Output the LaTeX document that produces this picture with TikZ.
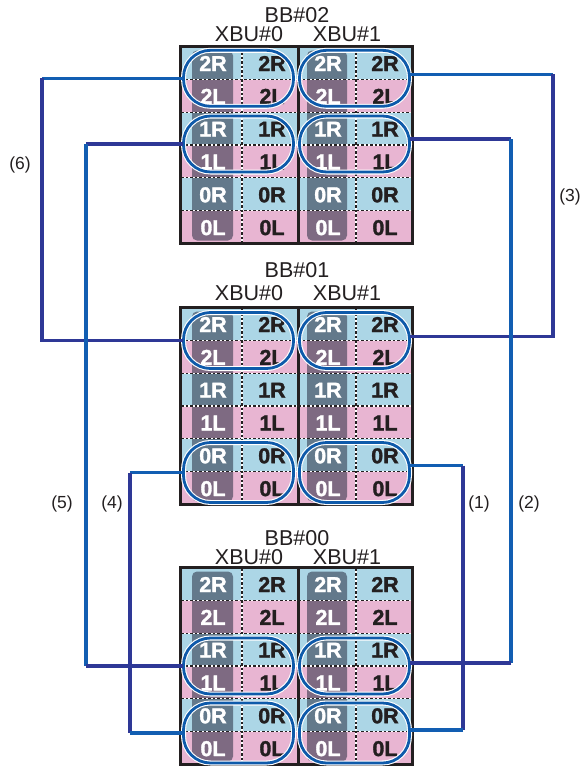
\documentclass[tikz,border=0pt]{standalone}
\usepackage{fontspec}
\setmainfont{Liberation Sans}
\newfontfamily\cellfont[UprightFont={* Bold}, UprightFeatures={FakeBold=1.5}]{Liberation Sans}
\usetikzlibrary{calc}
\definecolor{cellblue}{RGB}{172,214,230}
\definecolor{cellpink}{RGB}{232,181,210}
\definecolor{stripc}{RGB}{40,45,65}
\definecolor{boxc}{RGB}{35,31,32}
\definecolor{conA}{RGB}{18,94,178}
\definecolor{conB}{RGB}{46,56,150}
\definecolor{ellc}{RGB}{14,90,170}
\tikzset{
 cellw/.style={font=\cellfont\fontsize{21.5}{21.5}\selectfont, text=white, inner sep=0pt},
 cellk/.style={font=\cellfont\fontsize{21.5}{21.5}\selectfont, text=boxc, inner sep=0pt},
 ttl/.style={font=\fontsize{21.5}{21.5}\selectfont, text=boxc, inner sep=0pt},
 grp/.style={draw=white, double=ellc, double distance=2.8pt, line width=1.1pt, rounded corners=27pt, minimum width=110pt, minimum height=56pt, inner sep=0pt},
 conlineA/.style={draw=conA, line width=3.4pt},
 conlineB/.style={draw=conB, line width=3.4pt},
 lbl/.style={font=\fontsize{17.5}{17.5}\selectfont, text=boxc, inner sep=0pt},
 sepw/.style={draw=white, line width=1.3pt},
 sepk/.style={draw=boxc, line width=1.3pt, dash pattern=on 2.5pt off 2pt},
 boxline/.style={draw=boxc, line width=3pt},
 strip/.style={fill=stripc, fill opacity=0.55, rounded corners=5pt},
}
% #1 name, #2 top y of box, #3 BB title, #4 title y, #5 xbu y
\newcommand\bbblock[5]{%
 \begin{scope}[shift={(0,#2)}]
  \foreach \k in {0,2,4} {\fill[cellblue] (180,{32.833*\k}) rectangle (412,{32.833*(\k+1)});}
  \foreach \k in {1,3,5} {\fill[cellpink] (180,{32.833*\k}) rectangle (412,{32.833*(\k+1)});}
  \path[strip] (192,4) rectangle (233,194);
  \path[strip] (307,4) rectangle (347,194);
  \foreach \k in {1,...,5} {
    \draw[sepw] (181,{32.833*\k}) -- (411,{32.833*\k});
    \draw[sepk] (181,{32.833*\k}) -- (411,{32.833*\k});
  }
  \foreach \xx in {242,356} {
    \draw[sepw] (\xx,1) -- (\xx,196);
    \draw[sepk] (\xx,1) -- (\xx,196);
  }
  \draw[boxline] (180,0) rectangle (412,197);
  \draw[boxline] (298,0) -- (298,197);
  \foreach \k/\t in {0/2R,1/2L,2/1R,3/1L,4/0R,5/0L} {
    \node[cellw] (#1-a\k) at (213,{32.833*\k+17}) {\t};
    \node[cellk] (#1-b\k) at (272,{32.833*\k+17}) {\t};
    \node[cellw] (#1-c\k) at (328,{32.833*\k+17}) {\t};
    \node[cellk] (#1-d\k) at (385,{32.833*\k+17}) {\t};
  }
 \end{scope}
 \node[ttl] (#1-t) at (297,#4) {#3};
 \node[ttl] (#1-x0) at (249,#5) {XBU\#0};
 \node[ttl] (#1-x1) at (347,#5) {XBU\#1};
}
\begin{document}
\begin{tikzpicture}[x=1pt,y=-1pt]
\useasboundingbox (0,0) rectangle (584,766);
\fill[white] (0,0) rectangle (584,766);
\bbblock{bbb}{46.5}{BB\#02}{15}{34}
\bbblock{bba}{307.5}{BB\#01}{270}{293}
\bbblock{bbz}{567.5}{BB\#00}{538}{557}

% groups
\node[grp] (e2x0g2) at (238.5,78.3) {};
\node[grp] (e2x1g2) at (354.5,78.3) {};
\node[grp] (e2x0g1) at (238.5,144) {};
\node[grp] (e2x1g1) at (354.5,144) {};
\node[grp] (e1x0g2) at (238.5,340.5) {};
\node[grp] (e1x1g2) at (354.5,340.5) {};
\node[grp, minimum height=60pt] (e1x0g0) at (238.5,472.5) {};
\node[grp, minimum height=60pt] (e1x1g0) at (354.5,472.5) {};
\node[grp] (e0x0g1) at (238.5,666) {};
\node[grp] (e0x1g1) at (354.5,666) {};
\node[grp, minimum height=60pt] (e0x0g0) at (238.5,733) {};
\node[grp, minimum height=60pt] (e0x1g0) at (354.5,733) {};

% connector x positions
\coordinate (x6) at (42,0);
\coordinate (x5) at (86,0);
\coordinate (x4) at (130,0);
\coordinate (x1) at (463,0);
\coordinate (x2) at (511,0);
\coordinate (x3) at (553,0);
\coordinate (r3a) at ([yshift=4pt]e2x1g2.east);
\coordinate (r3b) at ([yshift=4pt]e1x1g2.east);
\coordinate (r2a) at ([yshift=5pt]e2x1g1.east);
\coordinate (r2b) at ([yshift=3pt]e0x1g1.east);
\coordinate (r1a) at ([yshift=7pt]e1x1g0.east);
\coordinate (r1b) at ([yshift=3pt]e0x1g0.east);

% (6)
\draw[conlineA] (e2x0g2.west) -- (e2x0g2.west -| x6);
\draw[conlineB] (e2x0g2.west -| x6) -- (e1x0g2.west -| x6) -- (e1x0g2.west);
% (5)
\draw[conlineB] (e2x0g1.west) -- (e2x0g1.west -| x5);
\draw[conlineA] (e2x0g1.west -| x5) -- (e0x0g1.west -| x5);
\draw[conlineB] (e0x0g1.west -| x5) -- (e0x0g1.west);
% (4)
\draw[conlineA] (e1x0g0.west) -- (e1x0g0.west -| x4);
\draw[conlineB] (e1x0g0.west -| x4) -- (e0x0g0.west -| x4);
\draw[conlineA] (e0x0g0.west -| x4) -- (e0x0g0.west);
% (3)
\draw[conlineA] (r3a) -- (r3a -| x3);
\draw[conlineB] (r3a -| x3) -- (r3b -| x3) -- (r3b);
% (2)
\draw[conlineB] (r2a) -- (r2a -| x2);
\draw[conlineA] (r2a -| x2) -- (r2b -| x2);
\draw[conlineB] (r2b -| x2) -- (r2b);
% (1)
\draw[conlineA] (r1a) -- (r1a -| x1);
\draw[conlineB] (r1a -| x1) -- (r1b -| x1);
\draw[conlineA] (r1b -| x1) -- (r1b);

% labels
\node[lbl] (l6) at (20,165) {(6)};
\node[lbl] (l3) at (570,197) {(3)};
\node[lbl] (l5) at (62,504) {(5)};
\node[lbl] (l4) at (112,504) {(4)};
\node[lbl] (l1) at (479,504) {(1)};
\node[lbl] (l2) at (529,504) {(2)};
\end{tikzpicture}
\end{document}
